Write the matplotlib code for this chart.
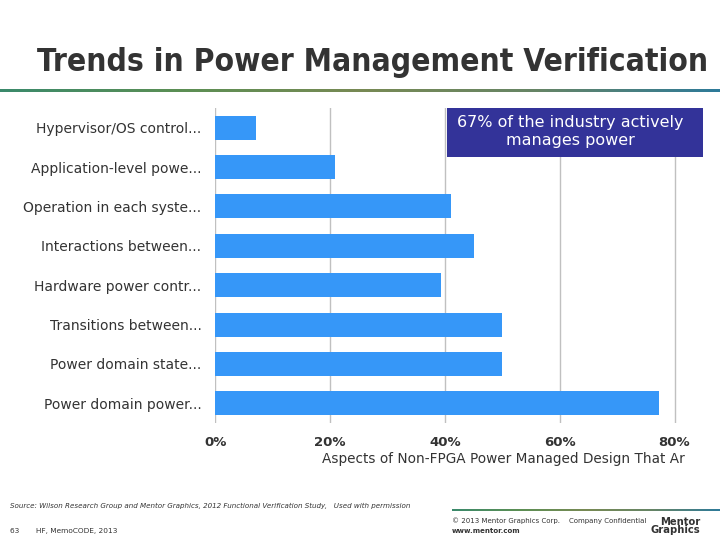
import numpy as np
import matplotlib
matplotlib.use('Agg')
import matplotlib.pyplot as plt
from matplotlib.patches import Rectangle

# datos (de arriba hacia abajo)
categories = [
    'Hypervisor/OS control...',
    'Application-level powe...',
    'Operation in each syste...',
    'Interactions between...',
    'Hardware power contr...',
    'Transitions between...',
    'Power domain state...',
    'Power domain power...',
]
values = [7.1, 20.9, 41.0, 45.1, 39.4, 49.9, 49.9, 77.3]
tick_values = [0, 20, 40, 60, 80]
tick_labels = ['0%', '20%', '40%', '60%', '80%']

plt.rcParams['font.family'] = ['DejaVu Sans']

fig = plt.figure(figsize=(7.2, 5.4), dpi=100)
W, H = 720.0, 540.0

def fx(px):
    return px / W

def fy(py):
    return 1 - py / H

# titulo y linea degradada
fig.text(fx(37), fy(62), 'Trends in Power Management Verification', fontsize=22.8,
         fontweight='bold', color='#333333', va='center', ha='left',
         fontstretch='condensed')

grad = np.array([[0.23, 0.54, 0.42], [0.36, 0.56, 0.33], [0.47, 0.54, 0.33],
                 [0.40, 0.52, 0.40], [0.18, 0.48, 0.60]])
cmap = matplotlib.colors.LinearSegmentedColormap.from_list('g', grad)
ax_line = fig.add_axes([0, fy(92.5), 1, 3.5 / H])
ax_line.imshow(np.linspace(0, 1, 300)[None, :], aspect='auto', cmap=cmap)
ax_line.axis('off')

ax_line2 = fig.add_axes([fx(452), fy(511), 1 - fx(452), 2.5 / H])
ax_line2.imshow(np.linspace(0, 1, 300)[None, :], aspect='auto', cmap=cmap)
ax_line2.axis('off')

# grafico de barras
ax = fig.add_axes([fx(215.3), fy(423), fx(700) - fx(215.3), 315 / H])
y = np.arange(len(categories))
ax.barh(y, values, height=0.61, color='#3697f8', zorder=2)
ax.set_ylim(len(categories) - 0.5, -0.5)
ax.set_xlim(0, (700 - 215.3) / 5.74)
ax.set_xticks(tick_values)
ax.set_xticklabels(tick_labels, fontsize=9.5, fontweight='bold', color='#333333')
ax.set_yticks(y)
ax.set_yticklabels(categories, fontsize=10, color='#333333')
ax.tick_params(axis='both', length=0)
ax.tick_params(axis='x', pad=9)
ax.tick_params(axis='y', pad=10)
for s in ax.spines.values():
    s.set_visible(False)
ax.grid(axis='x', color='#c0c0c0', linewidth=1, zorder=0)

# etiqueta del eje x (cortada en el original)
fig.text(fx(322), fy(459), 'Aspects of Non-FPGA Power Managed Design That Ar',
         fontsize=9.8, color='#333333', va='center', ha='left')

# recuadro de anotacion
fig.patches.append(Rectangle((fx(447), fy(157)), fx(703) - fx(447), 49 / H,
                             transform=fig.transFigure, facecolor='#333399',
                             edgecolor='none', zorder=3))
fig.text(fx(570), fy(132), '67% of the industry actively\nmanages power', fontsize=11.5,
         color='white', ha='center', va='center', linespacing=1.25, zorder=4)

# pie de pagina
fig.text(fx(10), fy(506), 'Source: Wilson Research Group and Mentor Graphics, 2012 Functional Verification Study,   Used with permission',
         fontsize=5.1, style='italic', color='#333333', va='center')
fig.text(fx(10), fy(531), '63       HF, MemoCODE, 2013', fontsize=5.3, color='#333333', va='center')
fig.text(fx(452), fy(521), '\u00a9 2013 Mentor Graphics Corp.    Company Confidential', fontsize=5,
         color='#333333', va='center')
fig.text(fx(452), fy(531), 'www.mentor.com', fontsize=5, fontweight='bold', color='#333333', va='center')
fig.text(fx(700), fy(526), 'Mentor\nGraphics', fontsize=8, fontweight='bold', color='#333333',
         ha='right', va='center', linespacing=0.8, fontstretch='condensed')

plt.savefig('out.png', dpi=100)
plt.close()
